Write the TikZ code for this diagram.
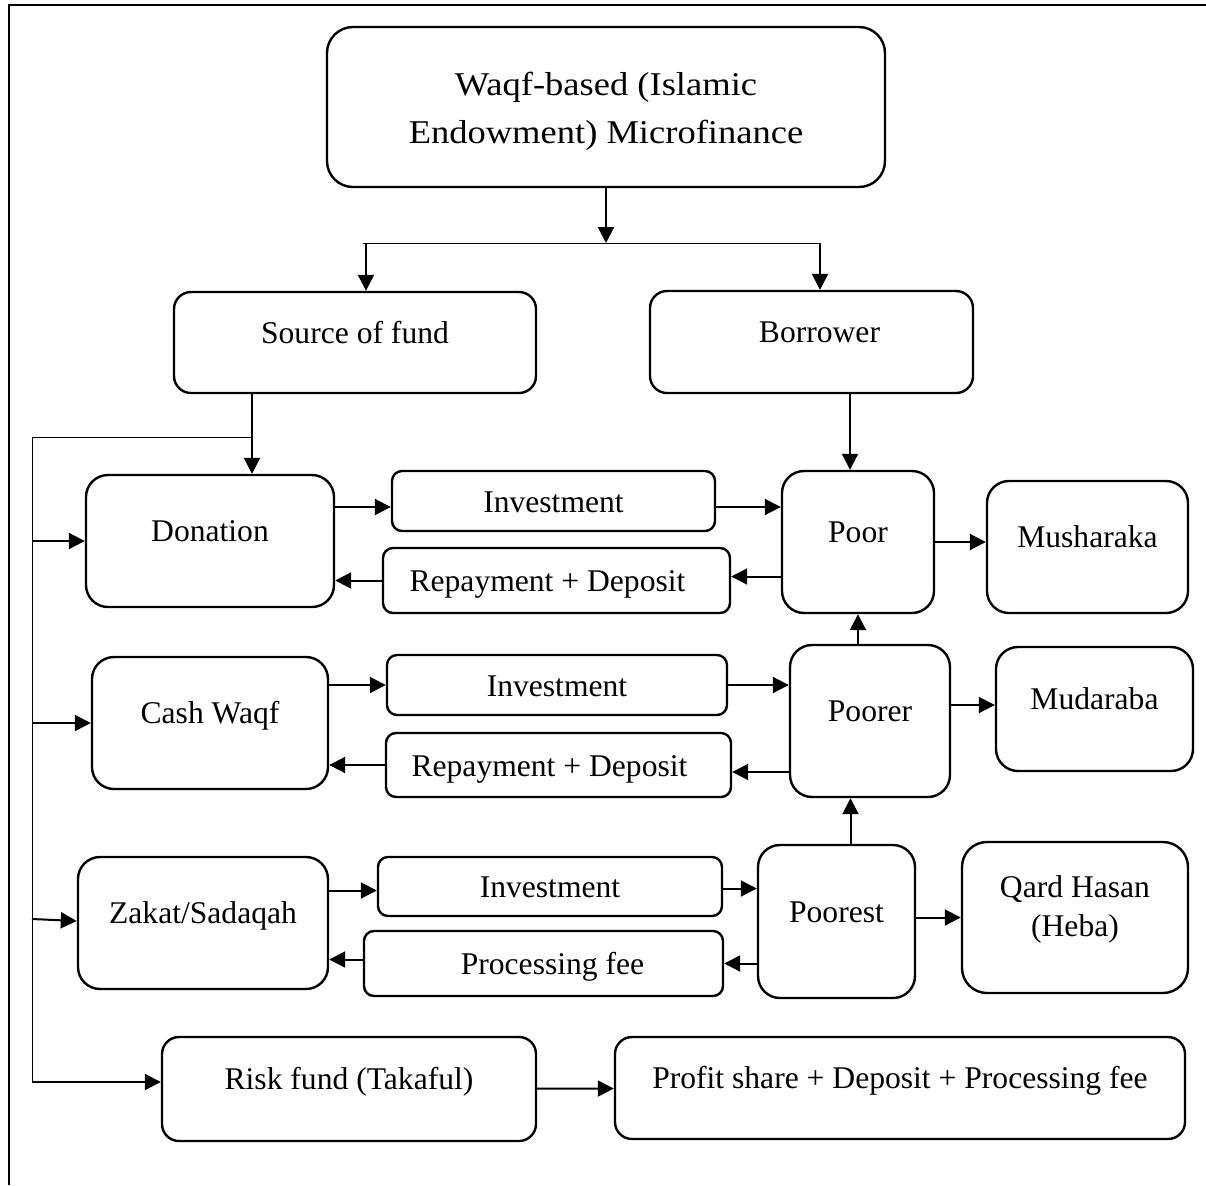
\documentclass[tikz,border=0pt]{standalone}
\usepackage{fontspec}
\setmainfont{Liberation Serif}
\newfontfamily\wideserif[FakeStretch=1.10]{Liberation Serif}
\usepackage{tikz}
\usetikzlibrary{arrows.meta, calc}

\tikzset{
  blk/.style={draw, line width=1.2pt, text height=11pt, inner sep=2pt},
  tallblk/.style={blk, rounded corners=11pt, text depth=10.5pt},
  wideblk/.style={blk, rounded corners=8.5pt, text depth=10.5pt},
  flatblk/.style={blk, rounded corners=5pt, text depth=0pt},
  arr/.style={line width=1pt, -{Triangle[length=8pt,width=8pt]}},
  thinline/.style={line width=0.5pt}
}

\begin{document}
\begin{tikzpicture}[x=0.5pt, y=-0.5pt, font=\fontsize{15.8}{19}\selectfont]
  \useasboundingbox (0,0) rectangle (1206,1185);
  \draw[line width=1pt] (9,1185) -- (9,5) -- (1206,5);

  \node[blk, rounded corners=13pt, minimum width=279pt, minimum height=80pt, text depth=23pt,
        font=\wideserif\fontsize{16.6}{24}\selectfont] (title) at (606,107)
    {\begin{tabular}[t]{@{}c@{}}Waqf-based (Islamic\\Endowment) Microfinance\end{tabular}};
  \node[wideblk, minimum width=181pt, minimum height=50.5pt] (src) at (355,342.5) {Source of fund};
  \node[wideblk, minimum width=161.5pt, minimum height=51pt] (bor) at (811.5,342) {\hspace*{8pt}Borrower};

  \node[tallblk, minimum width=124pt, minimum height=66pt] (don) at (210,541) {Donation};
  \node[tallblk, minimum width=118pt, minimum height=66pt] (cash) at (210,723) {Cash Waqf};
  \node[tallblk, minimum width=125pt, minimum height=66pt] (zak) at (203,923) {Zakat/Sadaqah};
  \node[wideblk, minimum width=187pt, minimum height=52pt] (risk) at (349,1089) {Risk fund (Takaful)};
  \node[wideblk, minimum width=285pt, minimum height=51pt] (prof) at (900,1088) {Profit share + Deposit + Processing fee};

  \node[flatblk, minimum width=161.5pt, minimum height=30pt] (inv1) at (553.5,501) {Investment};
  \node[flatblk, minimum width=173.5pt, minimum height=32.5pt] (rep1) at (556.5,580.5) {Repayment + Deposit\hspace*{9pt}};
  \node[flatblk, minimum width=170pt, minimum height=30pt] (inv2) at (557,685) {Investment};
  \node[flatblk, minimum width=172.5pt, minimum height=32pt] (rep2) at (558.5,765) {Repayment + Deposit\hspace*{9pt}};
  \node[flatblk, minimum width=172pt, minimum height=29.5pt] (inv3) at (550,886.5) {Investment};
  \node[flatblk, minimum width=179.5pt, minimum height=32.5pt] (fee) at (543.5,963.5) {\hspace*{9pt}Processing fee};

  \node[tallblk, minimum width=76pt, minimum height=71pt] (poor) at (858,542) {Poor};
  \node[tallblk, minimum width=80pt, minimum height=76pt] (poorer) at (870,721) {Poorer};
  \node[tallblk, minimum width=78.5pt, minimum height=76.5pt] (poorest) at (836.5,921.5) {Poorest};

  \node[tallblk, minimum width=100.5pt, minimum height=66pt] (mush) at (1087.5,547) {Musharaka};
  \node[tallblk, minimum width=98.5pt, minimum height=62pt] (mud) at (1094.5,709) {Mudaraba};
  \node[tallblk, rounded corners=12.5pt, minimum width=113pt, minimum height=75.5pt, text depth=31pt,
        font=\fontsize{15.8}{19.5}\selectfont] (qard) at (1075,917.5)
    {\begin{tabular}[t]{@{}c@{}}Qard Hasan\\(Heba)\end{tabular}};

  \coordinate (bus) at (606,243);
  \coordinate (busL) at (366,243);
  \coordinate (busR) at (820,243);
  \coordinate (split) at (252,437);
  \coordinate (rail) at (32,437);
  \coordinate (rk) at ([yshift=3.5pt]risk.west);

  \draw[arr] (title.south) -- (bus);
  \draw[thinline] ([xshift=-1.5pt]busL) -- (busR);
  \draw[arr] (busL) -- (busL |- src.north);
  \draw[arr] (busR) -- (busR |- bor.north);

  \draw[arr] (split |- src.south) -- (split |- don.north);
  \draw[thinline] (split) -- (rail) -- (rail |- rk);
  \draw[arr] (rail |- don) -- (don);
  \draw[arr] (rail |- cash) -- (cash);
  \draw[arr] ([yshift=2pt]rail |- zak) -- ([yshift=1pt]zak.west);
  \draw[arr] (rail |- rk) -- (rk);
  \draw[arr] (risk) -- (prof);

  \draw[arr] ([yshift=-3pt]inv1.west -| don.east) -- ([yshift=-3pt]inv1.west);
  \draw[arr] ([yshift=-3pt]inv1.east) -- ([yshift=-3pt]inv1.east -| poor.west);
  \draw[arr] ([yshift=2pt]rep1.east -| poor.west) -- ([yshift=2pt]rep1.east);
  \draw[arr] (rep1.west) -- (rep1.west -| don.east);
  \draw[arr] (poor.east) -- (poor.east -| mush.west);
  \draw[arr] ([xshift=-4pt]poor.north |- bor.south) -- ([xshift=-4pt]poor.north);

  \draw[arr] (inv2.west -| cash.east) -- (inv2.west);
  \draw[arr] (inv2.east) -- (inv2.east -| poorer.west);
  \draw[arr] ([yshift=-3.5pt]rep2.east -| poorer.west) -- ([yshift=-3.5pt]rep2.east);
  \draw[arr] (rep2.west) -- (rep2.west -| cash.east);
  \draw[arr] ([yshift=2pt]mud.west -| poorer.east) -- ([yshift=2pt]mud.west);
  \draw[arr] (poor.south |- poorer.north) -- (poor.south);

  \draw[arr] ([yshift=-2pt]inv3.west -| zak.east) -- ([yshift=-2pt]inv3.west);
  \draw[arr] ([yshift=-1pt]inv3.east) -- ([yshift=-1pt]inv3.east -| poorest.west);
  \draw[arr] (fee.east -| poorest.west) -- (fee.east);
  \draw[arr] ([yshift=2pt]fee.west) -- ([yshift=2pt]fee.west -| zak.east);
  \draw[arr] (qard.west -| poorest.east) -- (qard.west);
  \draw[arr] ([xshift=7pt]poorest.north) -- ([xshift=7pt]poorest.north |- poorer.south);
\end{tikzpicture}
\end{document}
